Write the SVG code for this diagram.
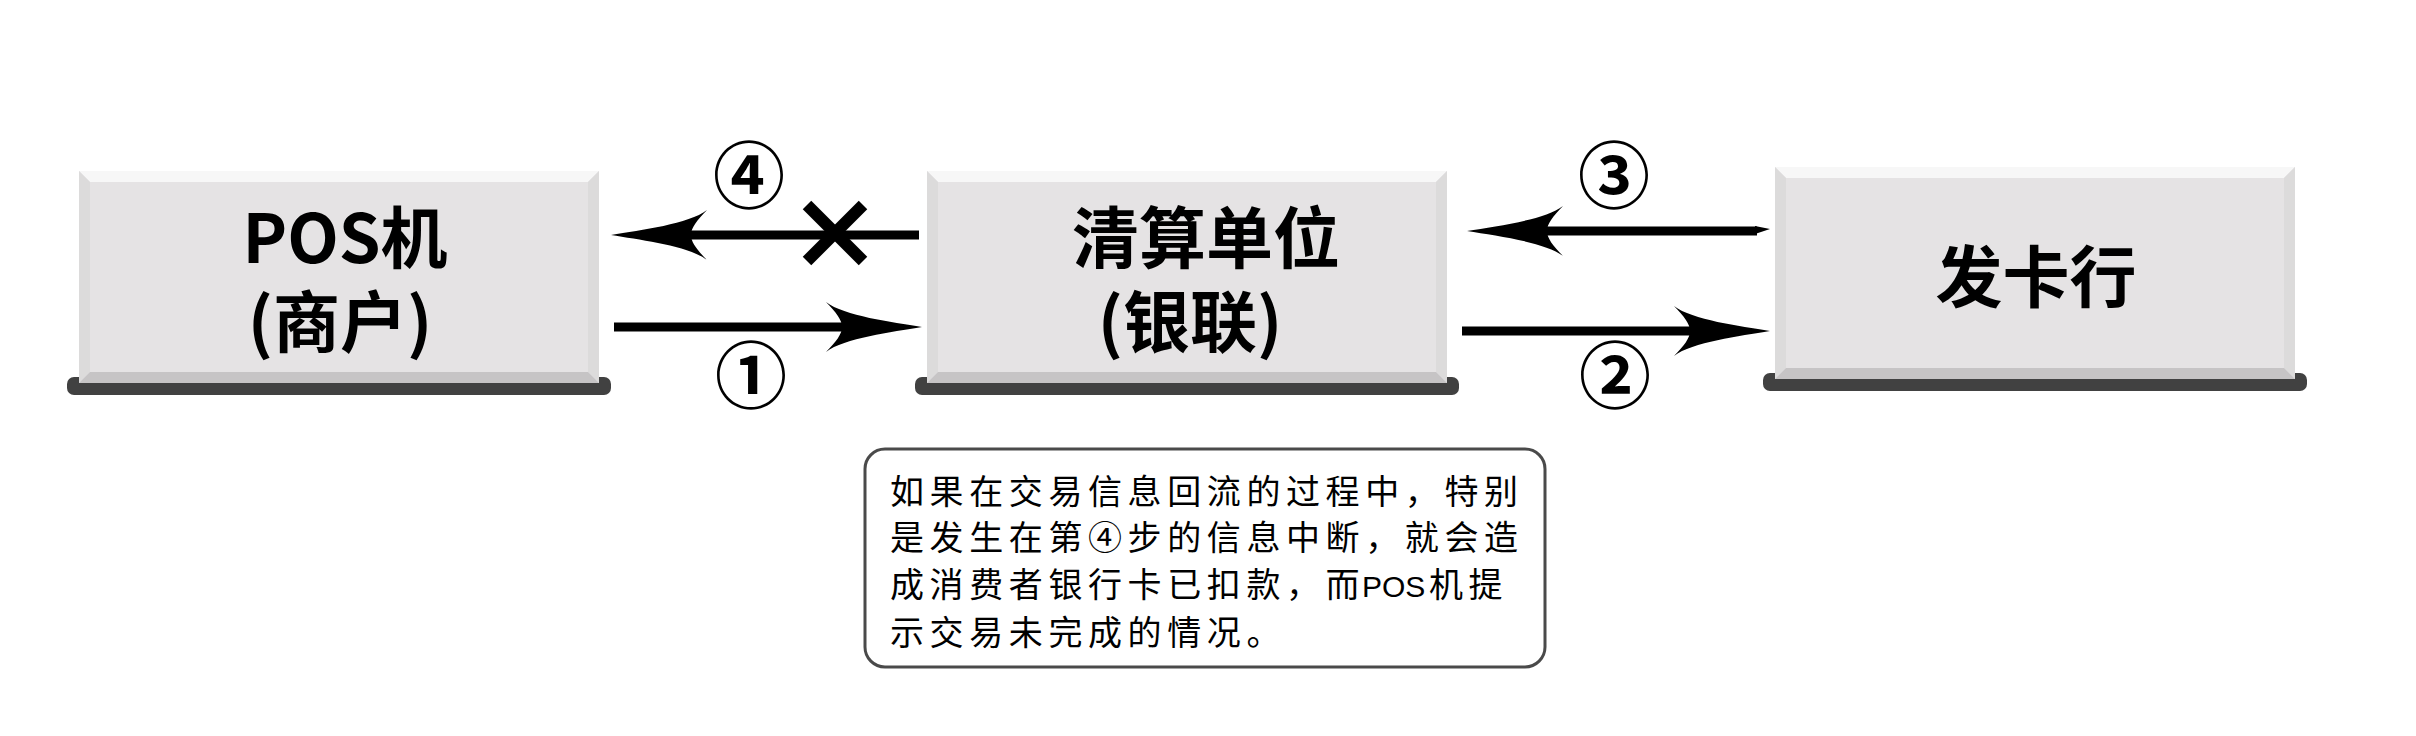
<svg xmlns="http://www.w3.org/2000/svg" xmlns:xlink="http://www.w3.org/1999/xlink" width="2416" height="736" viewBox="0 0 2416 736">
<style>
.face{fill:#e5e3e4}
.bt{fill:#f7f7f7}
.bs{fill:#dcdbdb}
.bb{fill:#c6c4c5}
.shadow{fill:#414141}
.lbl{font-family:"Noto Sans CJK SC","Noto Sans",sans-serif;font-weight:700;font-size:67px;fill:#000;text-anchor:middle}
.num{font-family:"Noto Sans CJK SC","Noto Sans",sans-serif;font-weight:700;font-size:72px;fill:#000;text-anchor:middle}
.line{stroke:#000;stroke-width:9;fill:none}
.note{font-family:"Noto Sans CJK SC","Noto Sans",sans-serif;font-size:34px;fill:#000;letter-spacing:5.6px}
.noteL{font-family:"Liberation Sans",sans-serif;font-size:30px;fill:#000}
</style>
<defs>
<g id="box">
<rect class="shadow" x="-12" y="206" width="544" height="18" rx="7"/>
<rect class="face" x="0" y="0" width="520" height="212"/>
<polygon class="bt" points="0,0 520,0 509,11 11,11"/>
<polygon class="bs" points="0,0 11,11 11,201 0,212"/>
<polygon class="bs" points="520,0 520,212 509,201 509,11"/>
<polygon class="bb" points="0,212 11,201 509,201 520,212"/>
</g>
<path id="head" d="M0,0 C-30,-5 -78,-11 -96,-25 C-86,-15 -80,-7 -80,0 C-80,7 -86,15 -96,25 C-78,11 -30,5 0,0 Z" fill="#000"/>
</defs>
<rect x="0" y="0" width="2416" height="736" fill="#fff"/>

<g id="node-pos">
<use xlink:href="#box" x="79" y="171"/>
<text class="lbl" x="345" y="263">POS机</text>
<text class="lbl" x="340" y="347">(商户)</text>
</g>

<g id="node-clearing">
<use xlink:href="#box" x="927" y="171"/>
<text class="lbl" x="1206" y="263">清算单位</text>
<text class="lbl" x="1190" y="347">(银联)</text>
</g>

<g id="node-issuer">
<use xlink:href="#box" x="1775" y="167"/>
<text class="lbl" x="2036" y="302">发卡行</text>
</g>

<g id="connectors">
<line class="line" x1="919" y1="235" x2="690" y2="235"/>
<use xlink:href="#head" transform="translate(611,235) rotate(180)"/>
<line x1="807" y1="205" x2="863" y2="261" stroke="#000" stroke-width="12"/>
<line x1="863" y1="205" x2="807" y2="261" stroke="#000" stroke-width="12"/>
<line class="line" x1="614" y1="327" x2="845" y2="327"/>
<use xlink:href="#head" transform="translate(922,327)"/>
<line class="line" x1="1757" y1="231" x2="1545" y2="231"/>
<polygon points="1755,226 1770,229 1755,234" fill="#000"/>
<use xlink:href="#head" transform="translate(1467,231) rotate(180)"/>
<line class="line" x1="1462" y1="331" x2="1690" y2="331"/>
<use xlink:href="#head" transform="translate(1770,331)"/>
</g>

<g id="labels">
<text class="num" x="749" y="202">④</text>
<text class="num" x="751" y="402">①</text>
<text class="num" x="1614" y="202">③</text>
<text class="num" x="1615" y="402">②</text>
</g>

<g id="note">
<rect x="865" y="449" width="680" height="218" rx="20" fill="#fff" stroke="#4a4a4a" stroke-width="3"/>
<text class="note" x="890" y="504">如果在交易信息回流的过程中，特别</text>
<text class="note" x="890" y="550">是发生在第④步的信息中断，就会造</text>
<text class="note" x="890" y="597">成消费者银行卡已扣款，而</text>
<text class="noteL" x="1362" y="597">POS</text>
<text class="note" x="1429" y="597">机提</text>
<text class="note" x="890" y="645">示交易未完成的情况。</text>
</g>
</svg>
